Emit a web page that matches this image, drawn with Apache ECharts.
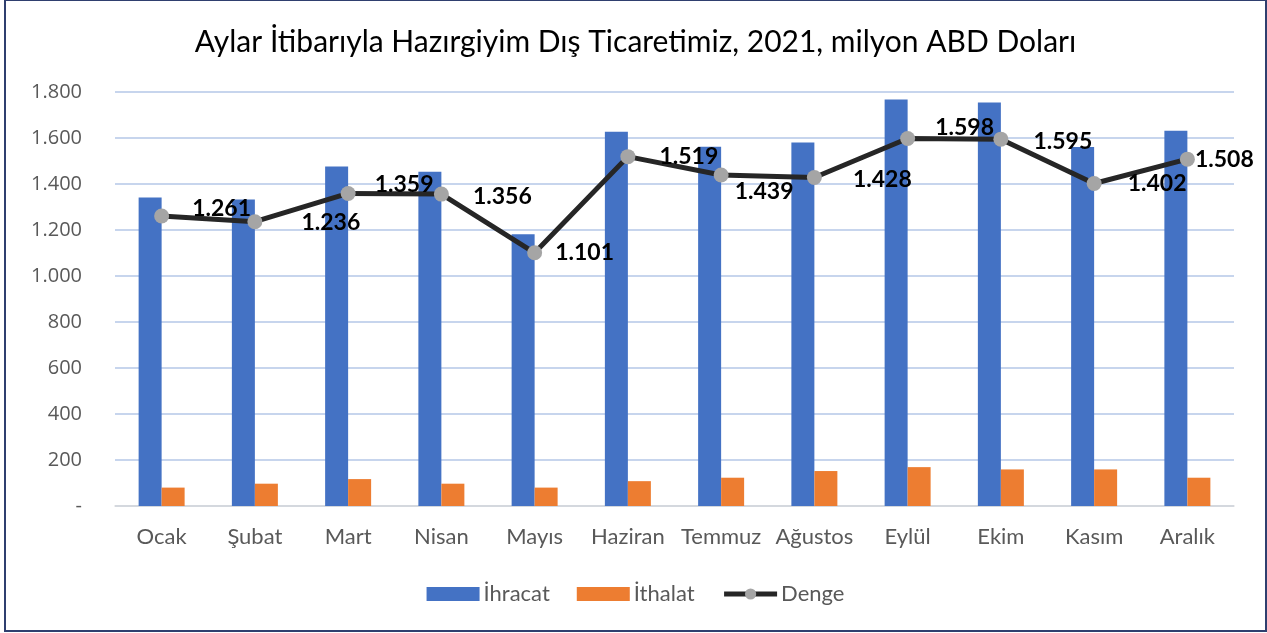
<!DOCTYPE html>
<html>
<head>
<meta charset="utf-8">
<script src="https://cdn.jsdelivr.net/npm/echarts@6/dist/echarts.min.js"></script>
<style>
    html, body { margin: 0; padding: 0; background: #fff; }
    #chart { position: absolute; left: 4px; top: 0; width: 1259px; height: 629px; border: 2px solid #2f3f6f; border-top-width: 1px; }
</style>
</head>
<body>
<div id="chart"></div>
<script>
var months = ['Ocak', 'Şubat', 'Mart', 'Nisan', 'Mayıs', 'Haziran', 'Temmuz', 'Ağustos', 'Eylül', 'Ekim', 'Kasım', 'Aralık'];
var ihracat = [1341, 1333, 1476, 1453, 1181, 1627, 1562, 1580, 1767, 1754, 1561, 1631];
var ithalat = [80, 97, 117, 97, 80, 108, 123, 152, 169, 159, 159, 123];
var denge = [1261, 1236, 1359, 1356, 1101, 1519, 1439, 1428, 1598, 1595, 1402, 1508];
// label offsets for the Denge labels (px from the marker centre)
var labelOffsets = [[60, -7], [76, 1], [56, -9], [61, 2], [50, 0], [61, 0], [43, 17], [68, 2], [57, -11], [62, 2], [63, 0], [37, 0]];

function trNum(v) {
    if (v === 0) return '-';
    return String(v).replace(/\B(?=(\d{3})+(?!\d))/g, '.');
}

var chart = echarts.init(document.getElementById('chart'), null, { renderer: 'canvas' });

var dengeData = denge.map(function (v, i) {
    return { value: v, label: { offset: labelOffsets[i] } };
});

var option = {
    animation: false,
    title: {
        text: 'Aylar İtibarıyla Hazırgiyim Dış Ticaretimiz, 2021, milyon ABD Doları',
        left: 'center',
        top: 21,
        textStyle: { fontFamily: 'Lato', fontWeight: 'normal', fontSize: 30, color: '#000' }
    },
    legend: {
        bottom: 20,
        left: 'center',
        itemWidth: 53,
        itemHeight: 14,
        itemGap: 27,
        textStyle: { fontFamily: 'Lato', fontSize: 22, color: '#595959', padding: [0, 0, 0, -1] },
        data: [
            { name: 'İhracat', icon: 'rect' },
            { name: 'İthalat', icon: 'rect' },
            { name: 'Denge', lineStyle: { width: 5, color: '#262626' }, itemStyle: { color: '#a5a5a5' } }
        ]
    },
    grid: { left: 109, right: 31, top: 91, bottom: 124 },
    xAxis: {
        type: 'category',
        data: months,
        axisLine: { lineStyle: { color: '#d9d9d9', width: 1.5 } },
        axisTick: { show: false },
        axisLabel: { interval: 0, fontFamily: 'Lato', fontSize: 22, color: '#595959', margin: 20 }
    },
    yAxis: {
        type: 'value',
        min: 0,
        max: 1800,
        interval: 200,
        axisLine: { show: false },
        axisTick: { show: false },
        splitLine: { lineStyle: { color: '#b4c7e7', width: 1.5 } },
        axisLabel: { fontFamily: 'Open Sans', fontSize: 20, color: '#595959', margin: 33, formatter: trNum }
    },
    series: [
        {
            name: 'İhracat',
            type: 'bar',
            data: ihracat,
            barWidth: 23,
            barGap: '0%',
            itemStyle: { color: '#4472c4' }
        },
        {
            name: 'İthalat',
            type: 'bar',
            data: ithalat,
            barWidth: 23,
            barGap: '0%',
            itemStyle: { color: '#ed7d31' }
        },
        {
            name: 'Denge',
            type: 'line',
            data: dengeData,
            symbol: 'circle',
            symbolSize: 15,
            z: 5,
            lineStyle: { color: '#262626', width: 5 },
            itemStyle: { color: '#a5a5a5' },
            label: {
                show: true,
                position: 'inside',
                fontFamily: 'Lato',
                fontWeight: 'bold',
                fontSize: 23,
                color: '#000',
                formatter: function (p) { return trNum(p.value); }
            }
        }
    ]
};

chart.setOption(option);
</script>
</body>
</html>
